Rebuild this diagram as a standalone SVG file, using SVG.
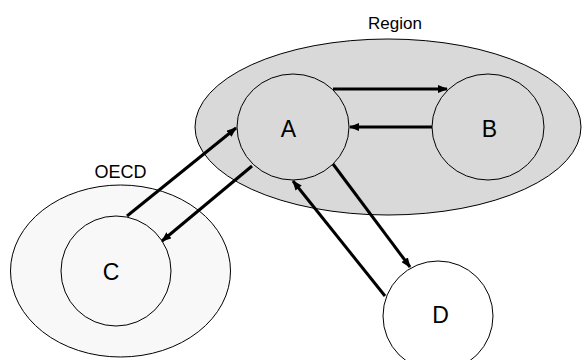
<svg xmlns="http://www.w3.org/2000/svg" width="583" height="360" viewBox="0 0 583 360">
<style>
.s{stroke:#000;stroke-width:1}
.t{font-family:"Liberation Sans",Arial,sans-serif;fill:#000;text-anchor:middle}
.big{font-size:23px}
.c{fill:none;stroke:#000;stroke-width:3;marker-end:url(#ah)}
</style>
<defs>
<marker id="ah" viewBox="0 0 10 8" refX="9" refY="4" markerWidth="10" markerHeight="8" markerUnits="userSpaceOnUse" orient="auto">
<path d="M0,0 L10,4 L0,8 Z" fill="#000"/>
</marker>
</defs>
<rect width="583" height="360" fill="#fff"/>
<g id="region">
<ellipse class="s" cx="388" cy="127" rx="193" ry="88" fill="#d9d9d9"/>
<text class="t" x="395" y="29" font-size="17">Region</text>
</g>
<g id="oecd">
<ellipse class="s" cx="120.5" cy="271" rx="110" ry="86" fill="#f8f8f8"/>
<text class="t" x="120.5" y="178" font-size="18">OECD</text>
</g>
<g id="A">
<ellipse class="s" cx="293" cy="127" rx="56" ry="53" fill="#d9d9d9"/>
<text class="t big" x="288.5" y="137">A</text>
</g>
<g id="B">
<ellipse class="s" cx="488" cy="127" rx="56" ry="53" fill="#d9d9d9"/>
<text class="t big" x="489.5" y="137">B</text>
</g>
<g id="C">
<ellipse class="s" cx="116" cy="271" rx="55" ry="55" fill="#f8f8f8"/>
<text class="t big" x="111" y="280">C</text>
</g>
<g id="D">
<ellipse class="s" cx="438" cy="316" rx="55" ry="55" fill="#fff"/>
<text class="t big" x="440.5" y="323">D</text>
</g>
<g id="connectors">
<line class="c" x1="333" y1="89" x2="447" y2="89"/>
<line class="c" x1="432" y1="127" x2="350" y2="127"/>
<line class="c" x1="127" y1="216" x2="236" y2="128"/>
<line class="c" x1="252" y1="166" x2="162" y2="241"/>
<line class="c" x1="333" y1="164" x2="410" y2="267"/>
<line class="c" x1="385" y1="296" x2="293" y2="181"/>
</g>
</svg>
